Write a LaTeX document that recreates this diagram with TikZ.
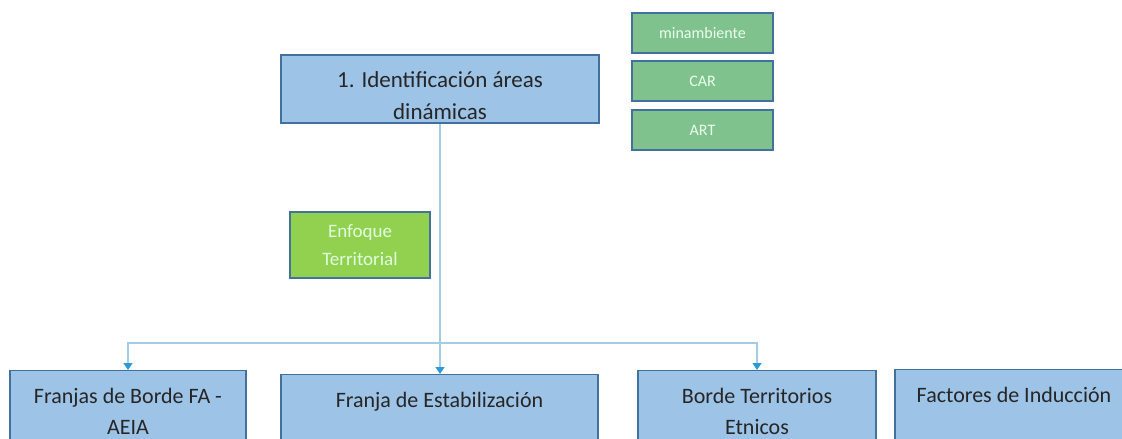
\documentclass[tikz,border=0pt]{standalone}
\usepackage{fontspec}
\setmainfont{Carlito}
\usetikzlibrary{arrows.meta}
\definecolor{boxblue}{HTML}{9DC3E6}
\definecolor{edgeblue}{HTML}{41719C}
\definecolor{linkblue}{HTML}{A2CDE6}
\definecolor{tipblue}{HTML}{2A9AD8}
\definecolor{agencygreen}{HTML}{7FC28E}
\definecolor{leafgreen}{HTML}{92D050}
\begin{document}
\begin{tikzpicture}[x=1pt,y=-1pt,
  bluebox/.style={draw=edgeblue, line width=1.2pt, fill=boxblue, align=center, inner sep=0pt, text=black!85, font=\fontsize{22}{31}\selectfont},
  lowbox/.style={bluebox, anchor=north, inner ysep=18pt},
  agency/.style={draw=edgeblue, line width=1.2pt, fill=agencygreen, text=white!92!green, inner sep=0pt, minimum width=141, minimum height=40, font=\fontsize{16}{19}\selectfont},
  link/.style={draw=linkblue, line width=1.3pt, -{Triangle[width=9pt,length=7pt,color=tipblue]}}]
\clip (0,0) rectangle (1122,439);
\node[bluebox, minimum width=318, minimum height=68, font=\fontsize{23}{32}\selectfont] (areas) at (440,89) {\rule{0pt}{29pt}1. Identificación áreas\\dinámicas};
\node[agency] (minamb) at (702.5,33) {minambiente};
\node[agency] (car) at (702.5,81) {CAR};
\node[agency] (art) at (702.5,130) {ART};
\node[draw=edgeblue, line width=1.2pt, fill=leafgreen, text=white!88!green, align=center, inner sep=0pt, minimum width=140, minimum height=66, font=\fontsize{19}{28}\selectfont] (enfoque) at (360,245) {Enfoque\\Territorial};
\node[lowbox, minimum width=236] (franjas) at (128,370) {Franjas de Borde FA -\\AEIA};
\node[lowbox, minimum width=317] (estab) at (439.5,374) {Franja de Estabilización\\~};
\node[lowbox, minimum width=238] (etnicos) at (757,370) {Borde Territorios\\Etnicos};
\node[lowbox, minimum width=238] (induccion) at (1014,369) {Factores de Inducción\\~};
\coordinate (split) at (440,343);
\draw[link] (areas.south) -- (areas.south |- estab.north);
\draw[link] (split) -| (franjas.north);
\draw[link] (split) -| (etnicos.north);
\end{tikzpicture}
\end{document}
